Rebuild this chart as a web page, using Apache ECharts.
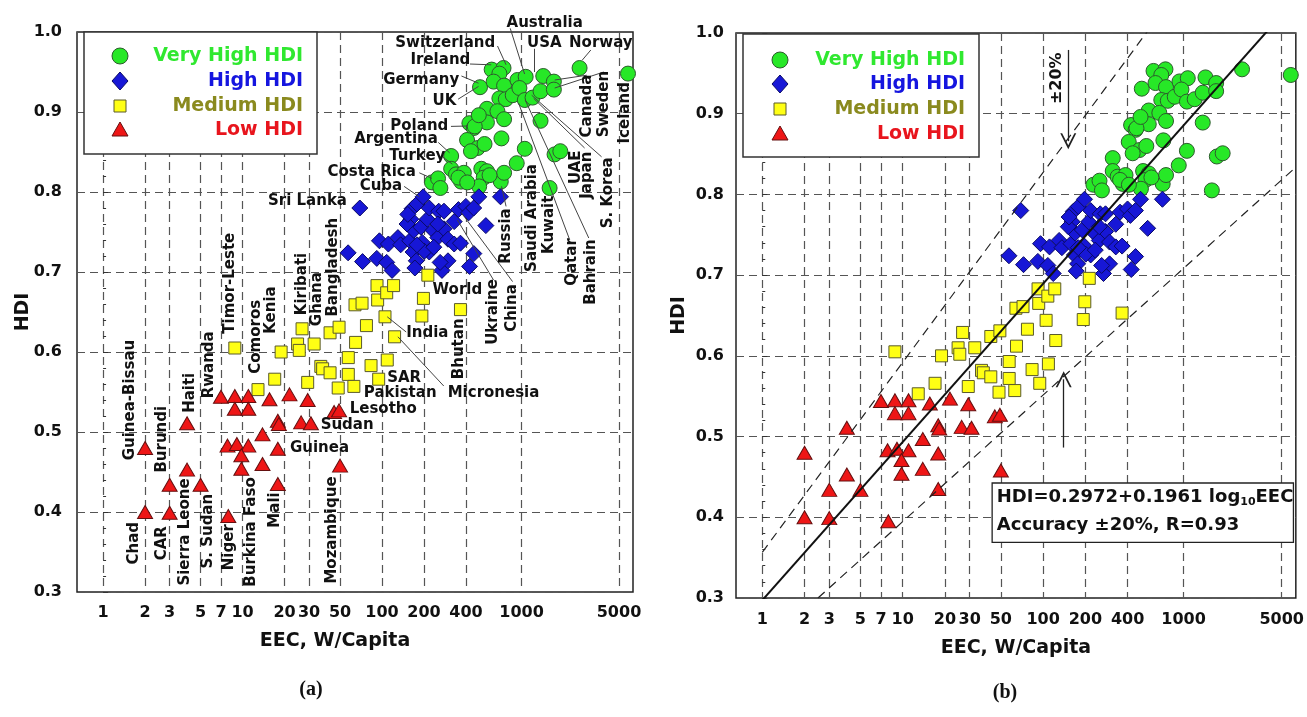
<!DOCTYPE html>
<html><head><meta charset="utf-8">
<script src="https://cdn.jsdelivr.net/npm/echarts@6/dist/echarts.min.js"></script>
<style>html,body{margin:0;padding:0;background:#fff}#c{width:1307px;height:717px}</style>
</head><body><div id="c"></div>
<script>
// ================= DATA =================
const xTickValues = [1, 2, 3, 5, 7, 10, 20, 30, 50, 100, 200, 400, 1000, 5000];
const yTickValues = [0.3, 0.4, 0.5, 0.6, 0.7, 0.8, 0.9, 1.0];

const veryHighEEC = [611, 743, 694, 504, 631, 750, 935, 1071, 1432, 1706, 2608, 5800,
  694, 772, 865, 966, 1056, 1200, 1369, 1706, 565, 672, 750, 565, 423, 455, 1369,
  718, 407, 485, 543, 434, 1056, 1725, 1898, 313, 924, 313, 339, 386, 369, 515, 565,
  536, 497, 710, 750, 1590, 228, 252, 262, 353, 408, 590, 462, 494];
const veryHighHDI = [0.953, 0.955, 0.948, 0.931, 0.938, 0.933, 0.940, 0.944, 0.945, 0.938, 0.955, 0.948,
  0.917, 0.916, 0.921, 0.930, 0.915, 0.918, 0.926, 0.928, 0.904, 0.901, 0.891, 0.887, 0.886, 0.880, 0.889,
  0.867, 0.865, 0.855, 0.860, 0.851, 0.854, 0.847, 0.851, 0.845, 0.836, 0.829, 0.822, 0.824, 0.813, 0.829, 0.826,
  0.818, 0.807, 0.813, 0.824, 0.805, 0.812, 0.817, 0.805, 0.818, 0.812, 0.821, 0.882, 0.896];

const highEEC = [69.3, 57.1, 72.5, 95.8, 91.7, 108, 111, 130, 136, 118, 158, 169, 161, 164, 178, 197,
  167, 176, 194, 190, 211, 218, 232, 251, 278, 297, 329, 365, 255, 278, 329, 353, 399, 418, 454, 494,
  707, 555, 455, 424, 269, 297, 261, 218, 201, 172, 178, 235, 251, 151, 153];
const highHDI = [0.780, 0.724, 0.713, 0.739, 0.717, 0.712, 0.735, 0.743, 0.734, 0.702, 0.739, 0.752, 0.766, 0.779, 0.785, 0.794,
  0.725, 0.714, 0.737, 0.756, 0.766, 0.780, 0.752, 0.743, 0.754, 0.741, 0.735, 0.736, 0.776, 0.776, 0.763, 0.778, 0.782, 0.774, 0.780, 0.794,
  0.794, 0.758, 0.723, 0.707, 0.702, 0.714, 0.712, 0.725, 0.726, 0.705, 0.734, 0.731, 0.760, 0.760, 0.772];

const mediumEEC = [8.8, 12.9, 17, 18.9, 26.7, 24.8, 25.5, 32.6, 29.3, 36.4, 37.5, 42.4, 49.2, 42.4, 48.5,
  57.3, 57.3, 62.8, 64.6, 64, 71.9, 77.3, 83.4, 94.6, 92, 93, 105, 108, 109, 123, 121, 213, 198, 193, 365];
const mediumHDI = [0.605, 0.553, 0.566, 0.600, 0.629, 0.610, 0.602, 0.610, 0.562, 0.582, 0.579, 0.624, 0.631, 0.574, 0.555,
  0.593, 0.572, 0.557, 0.612, 0.659, 0.661, 0.633, 0.583, 0.566, 0.683, 0.665, 0.644, 0.674, 0.590, 0.619, 0.683, 0.696, 0.667, 0.645, 0.653];

const lowEEC = [2, 2, 4, 4, 3, 3, 5, 7, 8.8, 11, 8.8, 11, 15.6, 21.7, 29.3, 17.9, 18.2, 26.3, 30.9, 45.3, 49.2, 50,
  7.8, 9.1, 11, 9.8, 9.8, 13.9, 13.9, 17.9, 17.9, 7.9];
const lowHDI = [0.480, 0.400, 0.511, 0.453, 0.434, 0.399, 0.434, 0.544, 0.545, 0.545, 0.529, 0.529, 0.541, 0.547, 0.540, 0.514, 0.510, 0.512, 0.511, 0.525, 0.527, 0.458,
  0.483, 0.485, 0.483, 0.471, 0.454, 0.497, 0.460, 0.479, 0.435, 0.395];

// regression shown in panel (b): HDI = 0.2972 + 0.1961 log10(EEC), band +-20 %
const fitIntercept = 0.2972, fitSlope = 0.1961, fitBand = 0.20;

// ================= LAYOUT / STYLE =================
const XMIN = 0.65, XMAX = 6300;
const FONT = 'DejaVu Sans';
const C = {vh:'#27e827', vhB:'#2d5a2d', h:'#1717d6', hB:'#0a0a66', m:'#ffff14', mB:'#5a5a2c', l:'#ee1616', lB:'#641010'};
const TC = {vh:'#30e830', h:'#1515df', m:'#8a8a1e', l:'#e8151d'};

const pair = (xs, ys) => xs.map((x, i) => [x, ys[i]]);

// text annotations of panel (a): [text, EEC, HDI, rotation]
const annotationsA = [
  ['Australia',1466,1.0116,0],['Switzerland',284,0.9866,0],['USA',1456,0.9866,0],['Norway',3705,0.9866,0],
  ['Ireland',262,0.965,0],['Germany',191,0.94,0],['UK',280,0.913,0],['Poland',185,0.882,0],
  ['Argentina',126,0.866,0],['Turkey',179,0.845,0],['Costa Rica',84.2,0.825,0],['Cuba',98.2,0.8075,0],
  ['Sri Lanka',29.2,0.788,0],['World',347,0.6775,0],['India',211,0.624,0],['Guinea',35.6,0.48,0],
  ['Sudan',56.2,0.509,0],['Lesotho',102,0.529,0],['SAR',144,0.5675,0],['Pakistan',135,0.549,0],['Micronesia',630,0.549,0],
  ['Canada',2944,0.9075,90],['Sweden',3890,0.91,90],['Iceland',5510,0.899,90],['UAE',2450,0.831,90],
  ['Japan',2944,0.821,90],['S. Korea',4160,0.799,90],['Bahrain',3140,0.70,90],['Qatar',2296,0.7125,90],
  ['Kuwait',1567,0.759,90],['Saudi Arabia',1183,0.7675,90],['Russia',775,0.745,90],['China',863,0.655,90],
  ['Ukraine',630,0.65,90],['Bhutan',359,0.604,90],['Bangladesh',44.6,0.706,90],['Ghana',34.2,0.666,90],
  ['Kiribati',26.7,0.685,90],['Kenia',16.1,0.6525,90],['Comoros',12.5,0.619,90],['Timor-Leste',8.17,0.686,90],
  ['Rwanda',5.72,0.584,90],['Guinea-Bissau',1.57,0.54,90],['Burundi',2.67,0.491,90],['Haiti',4.18,0.549,90],
  ['Chad',1.67,0.361,90],['CAR',2.67,0.361,90],['Sierra Leone',3.85,0.375,90],['S. Sudan',5.63,0.376,90],
  ['Niger',8.07,0.356,90],['Burkina Faso',11.6,0.375,90],['Mali',17.1,0.4025,90],['Mozambique',43.8,0.3775,90]
];
// leader lines of panel (a): [EEC1, HDI1, EEC2, HDI2]
const leaderLinesA = [
  [830,1.0046,1052,0.9475],[673,0.9825,775,0.959],[1242,0.979,1242,0.95],[3140,0.9775,2730,0.965],
  [2938,0.946,1730,0.94],[3890,0.95,1730,0.93],[427,0.96,607,0.959],[371,0.945,492,0.936],
  [351,0.916,492,0.932],[312,0.882,412,0.8825],[253,0.862,305,0.849],[271,0.844,319,0.835],
  [185,0.824,228,0.817],[144,0.807,185,0.794],[1183,0.921,3750,0.844],[1222,0.917,2833,0.855],
  [1062,0.915,3035,0.7425],[953,0.911,2218,0.74],[719,0.807,775,0.782],[371,0.774,863,0.688],
  [347,0.765,630,0.69],[109,0.644,149,0.625],[130,0.619,277,0.5575]
];
const annotationsB = [['±20%',126,0.944,90]];
const arrowsB = [[151,0.979,151,0.866],[140,0.4864,140,0.571]];
const equationAnchorB = [43.8, 0.4417];

const grids = [
  {left:77, right:674, top:32, bottom:125},
  {left:736, right:11, top:33, bottom:119}
];

function xAxes(gi, nameGap, namePad, labelMargin) {
  const logTicks = xTickValues.map(v => Math.log10(v));
  return [
    {type:'log', logBase:10, gridIndex:gi, min:XMIN, max:XMAX, position:'bottom',
     axisLine:{show:false}, axisTick:{show:false}, axisLabel:{show:false}, splitLine:{show:false}},
    {type:'value', gridIndex:gi, min:Math.log10(XMIN), max:Math.log10(XMAX), position:'bottom',
     axisLine:{show:false},
     axisTick:{show:false, customValues:logTicks},
     axisLabel:{customValues:logTicks, formatter:v => String(Math.round(Math.pow(10, v))),
       color:'#111', fontFamily:FONT, fontWeight:'bold', fontSize:16, margin:labelMargin, hideOverlap:false},
     splitLine:{show:true, lineStyle:{color:'#555', width:1.2, type:[8,5]}},
     name:'EEC, W/Capita', nameLocation:'middle', nameGap:nameGap,
     nameTextStyle:{color:'#111', fontFamily:FONT, fontWeight:'bold', fontSize:19, padding:namePad}}
  ];
}
function yAxis(gi, nameGap, labelMargin) {
  return {type:'value', gridIndex:gi, min:yTickValues[0], max:yTickValues[yTickValues.length-1], interval:0.1,
    axisLine:{show:false},
    axisTick:{show:true, inside:true, length:5, lineStyle:{color:'#333'}},
    minorTick:{show:true, splitNumber:5, length:3, lineStyle:{color:'#333'}},
    axisLabel:{formatter:v => v.toFixed(1), color:'#111', fontFamily:FONT, fontWeight:'bold', fontSize:16, margin:labelMargin},
    splitLine:{show:true, lineStyle:{color:'#555', width:1.2, type:[8,5]}},
    name:'HDI', nameLocation:'middle', nameGap:nameGap, nameRotate:90, nameMoveOverlap:false,
    nameTextStyle:{color:'#111', fontFamily:FONT, fontWeight:'bold', fontSize:19}};
}

function pointSeries(xi, yi) {
  const base = {type:'scatter', xAxisIndex:xi, yAxisIndex:yi, silent:true, z:3};
  return [
    Object.assign({}, base, {name:'Very High HDI', symbol:'circle', symbolSize:15, data:pair(veryHighEEC, veryHighHDI),
      itemStyle:{color:C.vh, borderColor:C.vhB, borderWidth:1, opacity:1}}),
    Object.assign({}, base, {name:'High HDI', symbol:'diamond', symbolSize:16, data:pair(highEEC, highHDI),
      itemStyle:{color:C.h, borderColor:C.hB, borderWidth:1, opacity:1}}),
    Object.assign({}, base, {name:'Medium HDI', symbol:'rect', symbolSize:12, data:pair(mediumEEC, mediumHDI),
      itemStyle:{color:C.m, borderColor:C.mB, borderWidth:1, opacity:1}}),
    Object.assign({}, base, {name:'Low HDI', symbol:'triangle', symbolSize:[15,13], data:pair(lowEEC, lowHDI),
      itemStyle:{color:C.l, borderColor:C.lB, borderWidth:1, opacity:1}})
  ];
}
function textSeries(xi, yi, list, fontSize) {
  return {type:'scatter', xAxisIndex:xi, yAxisIndex:yi, symbolSize:0, clip:false, silent:true, z:6,
    itemStyle:{opacity:1},
    data:list.map(a => ({value:[a[1], a[2]], label:{formatter:a[0], rotate:a[3]}})),
    label:{show:true, position:'inside', color:'#111', opacity:1, textBorderWidth:0,
      fontFamily:FONT, fontWeight:'bold', fontSize:fontSize}};
}

const fitEEC = [1, XMAX];
const fitLine = fitEEC.map(x => [x, fitIntercept + fitSlope * Math.log10(x)]);
const upperLine = fitEEC.map(x => [x, (1 + fitBand) * (fitIntercept + fitSlope * Math.log10(x))]);
const lowerLine = fitEEC.map(x => [x, (1 - fitBand) * (fitIntercept + fitSlope * Math.log10(x))]);

function legendGraphic(x, y, w, h, sx, tr, rows) {
  const f = 'bold 19px "' + FONT + '"';
  const Z = 100;
  return {type:'group', z:Z, children:[
    {type:'rect', z:Z, shape:{x:x, y:y, width:w, height:h}, style:{fill:'#fff', stroke:'#333', lineWidth:1.5}},
    {type:'circle', z:Z+1, shape:{cx:sx, cy:rows[0], r:8}, style:{fill:C.vh, stroke:C.vhB, lineWidth:1}},
    {type:'polygon', z:Z+1, shape:{points:[[sx, rows[1]-9],[sx+8, rows[1]],[sx, rows[1]+9],[sx-8, rows[1]]]}, style:{fill:C.h, stroke:C.hB, lineWidth:1}},
    {type:'rect', z:Z+1, shape:{x:sx-6, y:rows[2]-6, width:12, height:12}, style:{fill:C.m, stroke:C.mB, lineWidth:1}},
    {type:'polygon', z:Z+1, shape:{points:[[sx, rows[3]-8],[sx+8, rows[3]+6],[sx-8, rows[3]+6]]}, style:{fill:C.l, stroke:C.lB, lineWidth:1}},
    {type:'text', z:Z+1, style:{text:'Very High HDI', x:tr, y:rows[0], align:'right', verticalAlign:'middle', font:f, fill:TC.vh}},
    {type:'text', z:Z+1, style:{text:'High HDI', x:tr, y:rows[1], align:'right', verticalAlign:'middle', font:f, fill:TC.h}},
    {type:'text', z:Z+1, style:{text:'Medium HDI', x:tr, y:rows[2], align:'right', verticalAlign:'middle', font:f, fill:TC.m}},
    {type:'text', z:Z+1, style:{text:'Low HDI', x:tr, y:rows[3], align:'right', verticalAlign:'middle', font:f, fill:TC.l}}
  ]};
}

const chart = echarts.init(document.getElementById('c'), null, {renderer:'canvas'});
const option = {
  animation:false,
  backgroundColor:'#fff',
  grid: grids.map(g => Object.assign({show:true, borderColor:'#222', borderWidth:1.5, backgroundColor:'rgba(0,0,0,0)'}, g)),
  xAxis: [].concat(xAxes(0, 40, [0,40,0,0], 13), xAxes(1, 41, [0,0,0,0], 14)),
  yAxis: [yAxis(0, 44, 15), yAxis(1, 47, 12)],
  series: [].concat(
    pointSeries(0, 0),
    [textSeries(0, 0, annotationsA, 15),
     {type:'lines', coordinateSystem:'cartesian2d', xAxisIndex:0, yAxisIndex:0, clip:false, silent:true, z:5,
      lineStyle:{color:'#444', width:1, opacity:1}, symbol:'none',
      data:leaderLinesA.map(l => ({coords:[[l[0], l[1]], [l[2], l[3]]]}))}],
    [
     {type:'line', xAxisIndex:2, yAxisIndex:1, data:fitLine, showSymbol:false, silent:true, z:4,
      lineStyle:{color:'#111', width:2}},
     {type:'line', xAxisIndex:2, yAxisIndex:1, data:upperLine, showSymbol:false, silent:true, z:4,
      lineStyle:{color:'#222', width:1.2, type:[9,6]}},
     {type:'line', xAxisIndex:2, yAxisIndex:1, data:lowerLine, showSymbol:false, silent:true, z:4,
      lineStyle:{color:'#222', width:1.2, type:[9,6]}}
    ],
    pointSeries(2, 1),
    [textSeries(2, 1, annotationsB, 16),
     {type:'lines', coordinateSystem:'cartesian2d', xAxisIndex:2, yAxisIndex:1, clip:false, silent:true, z:5,
      lineStyle:{color:'#222', width:1.3, opacity:1},
      symbol:['none', 'path://M0,12 L6,0 L12,12 L10.6,12 L6,3 L1.4,12 Z'], symbolSize:[11,16],
      data:arrowsB.map(l => ({coords:[[l[0], l[1]], [l[2], l[3]]]}))},
     {type:'scatter', xAxisIndex:2, yAxisIndex:1, symbolSize:0, clip:false, silent:true, z:7,
      itemStyle:{opacity:1},
      data:[{value:equationAnchorB}],
      label:{show:true, position:[0,0], align:'left', verticalAlign:'top', opacity:1,
        formatter:'{m|HDI=0.2972+0.1961 log}{s|10}{m|EEC}\n{m|Accuracy ±20%, R=0.93}',
        backgroundColor:'#fff', borderColor:'#222', borderWidth:1.3, padding:[0,4,2,4], width:292,
        rich:{m:{fontFamily:FONT, fontWeight:'bold', fontSize:18, color:'#111', lineHeight:28},
              s:{fontFamily:FONT, fontWeight:'bold', fontSize:11, color:'#111', lineHeight:28, padding:[10,0,0,0]}}}}
    ]
  ),
  graphic: [
    legendGraphic(84, 32, 233, 122, 120, 303, [56, 81, 106, 130]),
    legendGraphic(743, 34, 236, 123, 780, 965, [60, 84, 109, 134]),
    {type:'text', z:100, style:{text:'(a)', x:311, y:690, align:'center', verticalAlign:'middle', font:'bold 20px "Liberation Serif"', fill:'#111'}},
    {type:'text', z:100, style:{text:'(b)', x:1005, y:693, align:'center', verticalAlign:'middle', font:'bold 20px "Liberation Serif"', fill:'#111'}}
  ]
};
chart.setOption(option);
</script>
</body></html>
